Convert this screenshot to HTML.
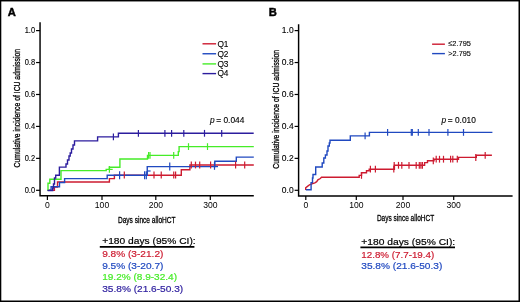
<!DOCTYPE html>
<html><head><meta charset="utf-8"><style>
html,body{margin:0;padding:0;background:#fff;width:520px;height:302px;overflow:hidden;}
svg{display:block;will-change:transform;font-family:"Liberation Sans", sans-serif;}
</style></head><body><svg width="520" height="302" viewBox="0 0 520 302" font-family='Liberation Sans, sans-serif'><rect x="0" y="0" width="520" height="302" fill="#000"/><rect x="1.3" y="1.45" width="517.2" height="299.05" fill="#fff"/><text x="7.70" y="16.30" font-size="11.2" font-weight="bold" fill="#000" stroke="#000" stroke-width="0.45">A</text><path d="M40.05 22.30 L40.05 195.70 L253.80 195.70" fill="none" stroke="#000" stroke-width="1.45" stroke-linejoin="miter"/><line x1="36.05" y1="190.30" x2="40.05" y2="190.30" stroke="#000" stroke-width="1.2"/><text transform="translate(35.05 192.85) scale(0.90 1)" font-size="8.3" text-anchor="end" fill="#000" stroke="#000" stroke-width="0.12">0.0</text><line x1="36.05" y1="158.36" x2="40.05" y2="158.36" stroke="#000" stroke-width="1.2"/><text transform="translate(35.05 160.91) scale(0.90 1)" font-size="8.3" text-anchor="end" fill="#000" stroke="#000" stroke-width="0.12">0.2</text><line x1="36.05" y1="126.42" x2="40.05" y2="126.42" stroke="#000" stroke-width="1.2"/><text transform="translate(35.05 128.97) scale(0.90 1)" font-size="8.3" text-anchor="end" fill="#000" stroke="#000" stroke-width="0.12">0.4</text><line x1="36.05" y1="94.48" x2="40.05" y2="94.48" stroke="#000" stroke-width="1.2"/><text transform="translate(35.05 97.03) scale(0.90 1)" font-size="8.3" text-anchor="end" fill="#000" stroke="#000" stroke-width="0.12">0.6</text><line x1="36.05" y1="62.54" x2="40.05" y2="62.54" stroke="#000" stroke-width="1.2"/><text transform="translate(35.05 65.09) scale(0.90 1)" font-size="8.3" text-anchor="end" fill="#000" stroke="#000" stroke-width="0.12">0.8</text><line x1="36.05" y1="30.60" x2="40.05" y2="30.60" stroke="#000" stroke-width="1.2"/><text transform="translate(35.05 33.15) scale(0.90 1)" font-size="8.3" text-anchor="end" fill="#000" stroke="#000" stroke-width="0.12">1.0</text><line x1="47.40" y1="195.70" x2="47.40" y2="199.90" stroke="#000" stroke-width="1.2"/><text x="47.40" y="207.60" font-size="8.60" fill="#000" text-anchor="middle" >0</text><line x1="102.00" y1="195.70" x2="102.00" y2="199.90" stroke="#000" stroke-width="1.2"/><text x="102.00" y="207.60" font-size="8.60" fill="#000" text-anchor="middle" >100</text><line x1="155.80" y1="195.70" x2="155.80" y2="199.90" stroke="#000" stroke-width="1.2"/><text x="155.80" y="207.60" font-size="8.60" fill="#000" text-anchor="middle" >200</text><line x1="210.30" y1="195.70" x2="210.30" y2="199.90" stroke="#000" stroke-width="1.2"/><text x="210.30" y="207.60" font-size="8.60" fill="#000" text-anchor="middle" >300</text><text transform="translate(19.90 167.40) rotate(-90)" x="0" y="0" font-size="9.6" fill="#000" stroke="#000" stroke-width="0.3" textLength="118.40" lengthAdjust="spacingAndGlyphs">Cumulative incidence of ICU admission</text><text x="117.90" y="223.10" font-size="9.60" fill="#000" text-anchor="start" textLength="57.70" lengthAdjust="spacingAndGlyphs" stroke="#000" stroke-width="0.3">Days since alloHCT</text><text x="268.80" y="16.30" font-size="11.2" font-weight="bold" fill="#000" stroke="#000" stroke-width="0.45">B</text><path d="M298.60 24.30 L298.60 195.90 L512.60 195.90" fill="none" stroke="#000" stroke-width="1.45" stroke-linejoin="miter"/><line x1="294.60" y1="190.30" x2="298.60" y2="190.30" stroke="#000" stroke-width="1.2"/><text transform="translate(293.60 192.85) scale(1.02 1)" font-size="8.3" text-anchor="end" fill="#000" stroke="#000" stroke-width="0.12">0.0</text><line x1="294.60" y1="158.36" x2="298.60" y2="158.36" stroke="#000" stroke-width="1.2"/><text transform="translate(293.60 160.91) scale(1.02 1)" font-size="8.3" text-anchor="end" fill="#000" stroke="#000" stroke-width="0.12">0.2</text><line x1="294.60" y1="126.42" x2="298.60" y2="126.42" stroke="#000" stroke-width="1.2"/><text transform="translate(293.60 128.97) scale(1.02 1)" font-size="8.3" text-anchor="end" fill="#000" stroke="#000" stroke-width="0.12">0.4</text><line x1="294.60" y1="94.48" x2="298.60" y2="94.48" stroke="#000" stroke-width="1.2"/><text transform="translate(293.60 97.03) scale(1.02 1)" font-size="8.3" text-anchor="end" fill="#000" stroke="#000" stroke-width="0.12">0.6</text><line x1="294.60" y1="62.54" x2="298.60" y2="62.54" stroke="#000" stroke-width="1.2"/><text transform="translate(293.60 65.09) scale(1.02 1)" font-size="8.3" text-anchor="end" fill="#000" stroke="#000" stroke-width="0.12">0.8</text><line x1="294.60" y1="30.60" x2="298.60" y2="30.60" stroke="#000" stroke-width="1.2"/><text transform="translate(293.60 33.15) scale(1.02 1)" font-size="8.3" text-anchor="end" fill="#000" stroke="#000" stroke-width="0.12">1.0</text><line x1="305.80" y1="195.90" x2="305.80" y2="200.10" stroke="#000" stroke-width="1.2"/><text x="305.80" y="207.60" font-size="8.60" fill="#000" text-anchor="middle" >0</text><line x1="356.30" y1="195.90" x2="356.30" y2="200.10" stroke="#000" stroke-width="1.2"/><text x="356.30" y="207.60" font-size="8.60" fill="#000" text-anchor="middle" >100</text><line x1="403.00" y1="195.90" x2="403.00" y2="200.10" stroke="#000" stroke-width="1.2"/><text x="403.00" y="207.60" font-size="8.60" fill="#000" text-anchor="middle" >200</text><line x1="453.70" y1="195.90" x2="453.70" y2="200.10" stroke="#000" stroke-width="1.2"/><text x="453.70" y="207.60" font-size="8.60" fill="#000" text-anchor="middle" >300</text><text transform="translate(278.90 168.80) rotate(-90)" x="0" y="0" font-size="9.6" fill="#000" stroke="#000" stroke-width="0.3" textLength="118.90" lengthAdjust="spacingAndGlyphs">Cumulative incidence of ICU admission</text><text x="376.90" y="220.90" font-size="9.60" fill="#000" text-anchor="start" textLength="57.30" lengthAdjust="spacingAndGlyphs" stroke="#000" stroke-width="0.3">Days since alloHCT</text><line x1="202.5" y1="43.80" x2="216.1" y2="43.80" stroke="#cd1b30" stroke-width="1.4"/><text x="217.40" y="46.60" font-size="8.30" fill="#000" text-anchor="start" stroke="#000" stroke-width="0.12">Q1</text><line x1="202.5" y1="53.75" x2="216.1" y2="53.75" stroke="#2049c0" stroke-width="1.4"/><text x="217.40" y="56.55" font-size="8.30" fill="#000" text-anchor="start" stroke="#000" stroke-width="0.12">Q2</text><line x1="202.5" y1="63.90" x2="216.1" y2="63.90" stroke="#46ec28" stroke-width="1.4"/><text x="217.40" y="66.70" font-size="8.30" fill="#000" text-anchor="start" stroke="#000" stroke-width="0.12">Q3</text><line x1="202.5" y1="73.60" x2="216.1" y2="73.60" stroke="#2c1d9e" stroke-width="1.4"/><text x="217.40" y="76.40" font-size="8.30" fill="#000" text-anchor="start" stroke="#000" stroke-width="0.12">Q4</text><line x1="432.1" y1="44.20" x2="444.9" y2="44.20" stroke="#cd1b30" stroke-width="1.4"/><text x="448.30" y="46.30" font-size="8.00" fill="#000" text-anchor="start" textLength="22.60" lengthAdjust="spacingAndGlyphs" stroke="#000" stroke-width="0.12">≤2.795</text><line x1="432.1" y1="53.60" x2="444.9" y2="53.60" stroke="#2049c0" stroke-width="1.4"/><text x="448.30" y="55.70" font-size="8.00" fill="#000" text-anchor="start" textLength="22.60" lengthAdjust="spacingAndGlyphs" stroke="#000" stroke-width="0.12">&gt;2.795</text><text x="210.1" y="122.6" font-size="8.35" fill="#000" stroke="#000" stroke-width="0.12"><tspan font-style="italic">p</tspan><tspan dx="-0.8"> = 0.044</tspan></text><text x="441.4" y="122.6" font-size="8.35" fill="#000" stroke="#000" stroke-width="0.12"><tspan font-style="italic">p</tspan><tspan dx="-0.6"> = 0.010</tspan></text><path d="M47.60 190.30 L54.40 190.30 L54.40 187.00 L57.50 187.00 L57.50 182.00 L109.40 182.00 L109.40 178.60 L114.40 178.60 L114.40 175.30 L181.30 175.30 L181.30 169.70 L189.90 169.70 L189.90 165.00 L253.80 165.00" fill="none" stroke="#cd1b30" stroke-width="1.40" stroke-linejoin="miter" stroke-linecap="butt"/><path d="M47.60 190.30 L51.10 190.30 L51.10 186.70 L59.50 186.70 L59.50 182.50 L64.60 182.50 L64.60 178.60 L107.20 178.60 L107.20 175.30 L147.25 175.30 L147.25 166.60 L214.80 166.60 L214.80 161.30 L236.30 161.30 L236.30 157.10 L253.80 157.10" fill="none" stroke="#2049c0" stroke-width="1.40" stroke-linejoin="miter" stroke-linecap="butt"/><path d="M47.60 190.30 L48.00 190.30 L48.00 183.30 L49.80 183.30 L49.80 179.20 L61.00 179.20 L61.00 170.60 L106.20 170.60 L106.20 169.40 L109.40 169.40 L109.40 167.20 L119.90 167.20 L119.90 159.00 L147.50 159.00 L147.50 155.40 L178.30 155.40 L178.30 151.60 L179.10 151.60 L179.10 146.60 L253.80 146.60" fill="none" stroke="#46ec28" stroke-width="1.40" stroke-linejoin="miter" stroke-linecap="butt"/><path d="M47.60 190.60 L52.70 190.60 L52.70 188.00 L53.50 188.00 L53.50 184.00 L54.50 184.00 L54.50 178.00 L55.70 178.00 L55.70 175.30 L59.40 175.30 L59.40 167.10 L66.00 167.10 L66.00 164.00 L67.50 164.00 L67.50 160.00 L69.00 160.00 L69.00 156.00 L70.20 156.00 L70.20 153.00 L71.50 153.00 L71.50 149.00 L73.00 149.00 L73.00 145.00 L74.50 145.00 L74.50 140.90 L97.60 140.90 L97.60 136.90 L118.40 136.90 L118.40 133.30 L253.70 133.30" fill="none" stroke="#2c1d9e" stroke-width="1.40" stroke-linejoin="miter" stroke-linecap="butt"/><line x1="109.4" y1="169.4" x2="112.7" y2="169.4" stroke="#46ec28" stroke-width="1.2"/><line x1="109.40" y1="166.00" x2="109.40" y2="172.80" stroke="#46ec28" stroke-width="1.20"/><line x1="148.60" y1="152.00" x2="148.60" y2="158.80" stroke="#46ec28" stroke-width="1.20"/><line x1="150.00" y1="152.00" x2="150.00" y2="158.80" stroke="#46ec28" stroke-width="1.20"/><line x1="173.70" y1="152.00" x2="173.70" y2="158.80" stroke="#46ec28" stroke-width="1.20"/><line x1="188.50" y1="143.20" x2="188.50" y2="150.00" stroke="#46ec28" stroke-width="1.20"/><line x1="207.50" y1="143.20" x2="207.50" y2="150.00" stroke="#46ec28" stroke-width="1.20"/><line x1="119.60" y1="171.30" x2="119.60" y2="179.30" stroke="#2049c0" stroke-width="1.20"/><line x1="144.60" y1="171.30" x2="144.60" y2="179.30" stroke="#2049c0" stroke-width="1.20"/><line x1="146.30" y1="171.30" x2="146.30" y2="179.30" stroke="#2049c0" stroke-width="1.20"/><line x1="169.75" y1="162.60" x2="169.75" y2="170.60" stroke="#2049c0" stroke-width="1.20"/><line x1="214.50" y1="161.80" x2="214.50" y2="169.80" stroke="#2049c0" stroke-width="1.20"/><line x1="147.25" y1="171.0" x2="150.6" y2="171.0" stroke="#2049c0" stroke-width="1.2"/><line x1="214.5" y1="166.6" x2="218.0" y2="166.6" stroke="#2049c0" stroke-width="1.2"/><line x1="124.30" y1="171.60" x2="124.30" y2="178.40" stroke="#cd1b30" stroke-width="1.20"/><line x1="154.00" y1="171.60" x2="154.00" y2="178.40" stroke="#cd1b30" stroke-width="1.20"/><line x1="161.25" y1="171.60" x2="161.25" y2="178.40" stroke="#cd1b30" stroke-width="1.20"/><line x1="173.75" y1="171.60" x2="173.75" y2="178.40" stroke="#cd1b30" stroke-width="1.20"/><line x1="175.60" y1="171.60" x2="175.60" y2="178.40" stroke="#cd1b30" stroke-width="1.20"/><line x1="191.30" y1="161.60" x2="191.30" y2="168.40" stroke="#cd1b30" stroke-width="1.20"/><line x1="195.50" y1="161.60" x2="195.50" y2="168.40" stroke="#cd1b30" stroke-width="1.20"/><line x1="199.70" y1="161.60" x2="199.70" y2="168.40" stroke="#cd1b30" stroke-width="1.20"/><line x1="210.60" y1="161.60" x2="210.60" y2="168.40" stroke="#cd1b30" stroke-width="1.20"/><line x1="235.60" y1="161.60" x2="235.60" y2="168.40" stroke="#cd1b30" stroke-width="1.20"/><line x1="244.70" y1="161.60" x2="244.70" y2="168.40" stroke="#cd1b30" stroke-width="1.20"/><line x1="113.40" y1="133.50" x2="113.40" y2="140.30" stroke="#2c1d9e" stroke-width="1.20"/><line x1="138.40" y1="129.90" x2="138.40" y2="136.70" stroke="#2c1d9e" stroke-width="1.20"/><line x1="164.90" y1="129.90" x2="164.90" y2="136.70" stroke="#2c1d9e" stroke-width="1.20"/><line x1="171.60" y1="129.90" x2="171.60" y2="136.70" stroke="#2c1d9e" stroke-width="1.20"/><line x1="183.80" y1="129.90" x2="183.80" y2="136.70" stroke="#2c1d9e" stroke-width="1.20"/><line x1="204.50" y1="129.90" x2="204.50" y2="136.70" stroke="#2c1d9e" stroke-width="1.20"/><line x1="221.70" y1="129.90" x2="221.70" y2="136.70" stroke="#2c1d9e" stroke-width="1.20"/><path d="M305.70 190.00 L305.70 187.80 L307.50 186.40 L309.50 184.80 L311.90 183.80 L314.90 182.90 L316.70 181.70 L317.90 179.80 L320.30 178.50 L321.50 177.30 L359.20 177.30 L359.20 175.40 L361.50 175.40 L361.50 172.70 L366.50 172.70 L366.50 170.80 L369.20 170.80 L369.20 169.20 L394.40 169.20 L394.40 165.30 L424.60 165.30 L424.60 162.60 L427.50 162.60 L427.50 160.70 L434.00 160.70 L434.00 159.20 L458.50 159.20 L458.50 157.40 L476.30 157.40 L476.30 155.30 L491.90 155.30" fill="none" stroke="#cd1b30" stroke-width="1.40" stroke-linejoin="miter" stroke-linecap="butt"/><path d="M305.90 189.80 L311.10 189.80 L311.10 182.60 L312.50 182.60 L312.50 178.00 L313.00 178.00 L313.00 174.50 L315.70 174.50 L315.70 167.00 L322.20 167.00 L322.20 163.00 L323.80 163.00 L323.80 158.00 L325.40 158.00 L325.40 155.00 L327.00 155.00 L327.00 151.00 L328.00 151.00 L328.00 146.00 L329.30 146.00 L329.30 143.00 L330.00 143.00 L330.00 140.20 L350.30 140.20 L350.30 135.90 L369.40 135.90 L369.40 132.40 L492.40 132.40" fill="none" stroke="#2049c0" stroke-width="1.40" stroke-linejoin="miter" stroke-linecap="butt"/><line x1="361.50" y1="172.00" x2="361.50" y2="178.80" stroke="#cd1b30" stroke-width="1.20"/><line x1="370.40" y1="165.80" x2="370.40" y2="172.60" stroke="#cd1b30" stroke-width="1.20"/><line x1="375.40" y1="165.80" x2="375.40" y2="172.60" stroke="#cd1b30" stroke-width="1.20"/><line x1="393.80" y1="165.80" x2="393.80" y2="172.60" stroke="#cd1b30" stroke-width="1.20"/><line x1="394.20" y1="161.90" x2="394.20" y2="168.70" stroke="#cd1b30" stroke-width="1.20"/><line x1="398.50" y1="161.90" x2="398.50" y2="168.70" stroke="#cd1b30" stroke-width="1.20"/><line x1="401.80" y1="161.90" x2="401.80" y2="168.70" stroke="#cd1b30" stroke-width="1.20"/><line x1="409.00" y1="161.90" x2="409.00" y2="168.70" stroke="#cd1b30" stroke-width="1.20"/><line x1="416.20" y1="161.90" x2="416.20" y2="168.70" stroke="#cd1b30" stroke-width="1.20"/><line x1="419.30" y1="161.90" x2="419.30" y2="168.70" stroke="#cd1b30" stroke-width="1.20"/><line x1="420.90" y1="161.90" x2="420.90" y2="168.70" stroke="#cd1b30" stroke-width="1.20"/><line x1="422.40" y1="161.90" x2="422.40" y2="168.70" stroke="#cd1b30" stroke-width="1.20"/><line x1="433.30" y1="157.50" x2="433.30" y2="164.30" stroke="#cd1b30" stroke-width="1.20"/><line x1="436.20" y1="155.80" x2="436.20" y2="162.60" stroke="#cd1b30" stroke-width="1.20"/><line x1="439.50" y1="155.80" x2="439.50" y2="162.60" stroke="#cd1b30" stroke-width="1.20"/><line x1="443.50" y1="155.80" x2="443.50" y2="162.60" stroke="#cd1b30" stroke-width="1.20"/><line x1="450.60" y1="155.80" x2="450.60" y2="162.60" stroke="#cd1b30" stroke-width="1.20"/><line x1="452.80" y1="155.80" x2="452.80" y2="162.60" stroke="#cd1b30" stroke-width="1.20"/><line x1="457.30" y1="155.80" x2="457.30" y2="162.60" stroke="#cd1b30" stroke-width="1.20"/><line x1="475.80" y1="154.10" x2="475.80" y2="160.90" stroke="#cd1b30" stroke-width="1.20"/><line x1="485.20" y1="151.90" x2="485.20" y2="158.70" stroke="#cd1b30" stroke-width="1.20"/><line x1="365.10" y1="132.50" x2="365.10" y2="139.30" stroke="#2049c0" stroke-width="1.20"/><line x1="387.60" y1="129.00" x2="387.60" y2="135.80" stroke="#2049c0" stroke-width="1.20"/><line x1="411.30" y1="129.00" x2="411.30" y2="135.80" stroke="#2049c0" stroke-width="1.20"/><line x1="412.30" y1="129.00" x2="412.30" y2="135.80" stroke="#2049c0" stroke-width="1.20"/><line x1="418.30" y1="129.00" x2="418.30" y2="135.80" stroke="#2049c0" stroke-width="1.20"/><line x1="429.00" y1="129.00" x2="429.00" y2="135.80" stroke="#2049c0" stroke-width="1.20"/><line x1="447.90" y1="129.00" x2="447.90" y2="135.80" stroke="#2049c0" stroke-width="1.20"/><line x1="463.50" y1="129.00" x2="463.50" y2="135.80" stroke="#2049c0" stroke-width="1.20"/><text x="102.20" y="244.00" font-size="9.90" fill="#000" text-anchor="start" textLength="93.50" lengthAdjust="spacingAndGlyphs" stroke="#000" stroke-width="0.2">+180 days (95% CI):</text><line x1="99.80" y1="246.90" x2="194.40" y2="246.90" stroke="#000" stroke-width="1.7"/><text x="102.20" y="257.10" font-size="9.90" fill="#cd1b30" text-anchor="start" textLength="61.20" lengthAdjust="spacingAndGlyphs" stroke="#cd1b30" stroke-width="0.2">9.8% (3-21.2)</text><text x="102.20" y="268.65" font-size="9.90" fill="#2049c0" text-anchor="start" textLength="61.20" lengthAdjust="spacingAndGlyphs" stroke="#2049c0" stroke-width="0.2">9.5% (3-20.7)</text><text x="102.20" y="280.20" font-size="9.90" fill="#46ec28" text-anchor="start" textLength="74.80" lengthAdjust="spacingAndGlyphs" stroke="#46ec28" stroke-width="0.2">19.2% (8.9-32.4)</text><text x="102.20" y="291.75" font-size="9.90" fill="#2c1d9e" text-anchor="start" textLength="81.00" lengthAdjust="spacingAndGlyphs" stroke="#2c1d9e" stroke-width="0.2">35.8% (21.6-50.3)</text><text x="361.30" y="244.60" font-size="9.90" fill="#000" text-anchor="start" textLength="93.90" lengthAdjust="spacingAndGlyphs" stroke="#000" stroke-width="0.2">+180 days (95% CI):</text><line x1="360.40" y1="247.40" x2="455.00" y2="247.40" stroke="#000" stroke-width="1.7"/><text x="361.30" y="257.70" font-size="9.90" fill="#cd1b30" text-anchor="start" textLength="72.90" lengthAdjust="spacingAndGlyphs" stroke="#cd1b30" stroke-width="0.2">12.8% (7.7-19.4)</text><text x="361.30" y="269.25" font-size="9.90" fill="#2049c0" text-anchor="start" textLength="81.00" lengthAdjust="spacingAndGlyphs" stroke="#2049c0" stroke-width="0.2">35.8% (21.6-50.3)</text></svg></body></html>
